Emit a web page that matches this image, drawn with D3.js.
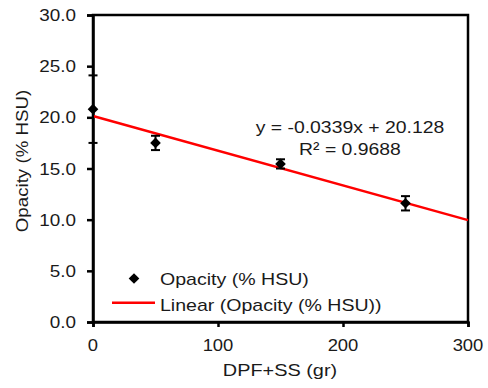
<!DOCTYPE html>
<html>
<head>
<meta charset="utf-8">
<script src="https://cdn.jsdelivr.net/npm/d3@7"></script>
<style>
  body { margin: 0; background: #fff; }
  svg { display: block; font-family: "Liberation Sans", Arial, sans-serif; }
</style>
</head>
<body>
<div id="chart"></div>
<script>
// data
const dose = [0, 50, 150, 250];
const opacity = [20.8, 17.5, 15.45, 11.6];
const errs = [3.3, 0.7, 0.45, 0.7];
const slope = -0.0339, intercept = 20.128;
const xTicks = [0, 100, 200, 300];
const yTicks = [0, 5, 10, 15, 20, 25, 30];

const width = 488, height = 388;
const margin = {top: 15, right: 20, bottom: 66, left: 93};
const ink = "#1a1a1a";

const svg = d3.select("#chart").append("svg")
    .attr("width", width)
    .attr("height", height);

let x = d3.scaleLinear().domain([0, 300]).range([margin.left, width - margin.right]);
let y = d3.scaleLinear().domain([0, 30]).range([height - margin.bottom, margin.top]);

// the original font runs a bit wider than Arial, so stretch each label
function stretch(sel, k) {
    sel.each(function() {
        const w = this.getComputedTextLength();
        d3.select(this).attr("textLength", w * k).attr("lengthAdjust", "spacingAndGlyphs");
    });
    return sel;
}

function label(px, py, txt, size, anchor) {
    return svg.append("text")
        .attr("x", px).attr("y", py)
        .attr("text-anchor", anchor || "start")
        .attr("font-size", size).attr("fill", ink)
        .text(txt);
}

// frame
svg.append("rect")
    .attr("x", x(0)).attr("y", y(30))
    .attr("width", x(300) - x(0)).attr("height", y(0) - y(30))
    .attr("fill", "none").attr("stroke", "#000").attr("stroke-width", 2.5);

const yAxis = svg.append("g")
    .attr("transform", `translate(${x(0)},0)`)
    .call(d3.axisLeft(y).tickValues(yTicks).tickFormat("").tickSize(6));
const xAxis = svg.append("g")
    .attr("transform", `translate(0,${y(0)})`)
    .call(d3.axisBottom(x).tickValues(xTicks).tickFormat("").tickSize(5));

[xAxis, yAxis].forEach(a => {
    a.select(".domain").attr("stroke-width", 2.5);
    a.selectAll(".tick line").attr("stroke-width", 2.5);
});

// tick labels
const fmt = d3.format(".1f");
yTicks.forEach(t => stretch(label(76, y(t) + 6, fmt(t), 16, "end"), 1.18));
xTicks.forEach(t => stretch(label(x(t), 351, t, 16, "middle"), 1.15));

// trend line
svg.append("line")
    .attr("x1", x(0)).attr("y1", y(intercept))
    .attr("x2", x(300)).attr("y2", y(intercept + slope * 300))
    .attr("stroke", "#ff0000").attr("stroke-width", 2.5);

const pts = dose.map((d, i) => ({x: d, y: opacity[i], e: errs[i]}));

// error bars
const eb = svg.append("g").attr("stroke", "#000").attr("stroke-width", 2);
pts.forEach(p => {
    eb.append("line").attr("x1", x(p.x)).attr("x2", x(p.x))
        .attr("y1", y(p.y - p.e)).attr("y2", y(p.y + p.e));
    [p.y - p.e, p.y + p.e].forEach(v => {
        eb.append("line").attr("x1", x(p.x) - 4.5).attr("x2", x(p.x) + 4.5)
            .attr("y1", y(v)).attr("y2", y(v));
    });
});

const diamond = d3.symbol().type(d3.symbolDiamond2).size(72);
svg.append("g").selectAll("path")
    .data(pts)
    .join("path")
    .attr("transform", d => `translate(${x(d.x)},${y(d.y)})`)
    .attr("d", diamond)
    .attr("fill", "#000");

// equation
stretch(label(350, 133, "y = -0.0339x + 20.128", 17, "middle"), 1.14);
stretch(label(350, 154.5, "R² = 0.9688", 17, "middle"), 1.14);

// legend
svg.append("path")
    .attr("transform", "translate(134,278.5)")
    .attr("d", diamond).attr("fill", "#000");
stretch(label(160, 284.5, "Opacity (% HSU)", 17), 1.15);
svg.append("line")
    .attr("x1", 112).attr("x2", 155).attr("y1", 302.7).attr("y2", 302.7)
    .attr("stroke", "#ff0000").attr("stroke-width", 2.5);
stretch(label(160, 311, "Linear (Opacity (% HSU))", 17), 1.15);

// axis titles
stretch(label(280, 376, "DPF+SS (gr)", 17, "middle"), 1.17);
svg.append("text")
    .attr("transform", `translate(28,161) rotate(-90)`)
    .attr("text-anchor", "middle").attr("font-size", 17).attr("fill", ink)
    .text("Opacity (% HSU)")
    .call(s => stretch(s, 1.1));
</script>
</body>
</html>
